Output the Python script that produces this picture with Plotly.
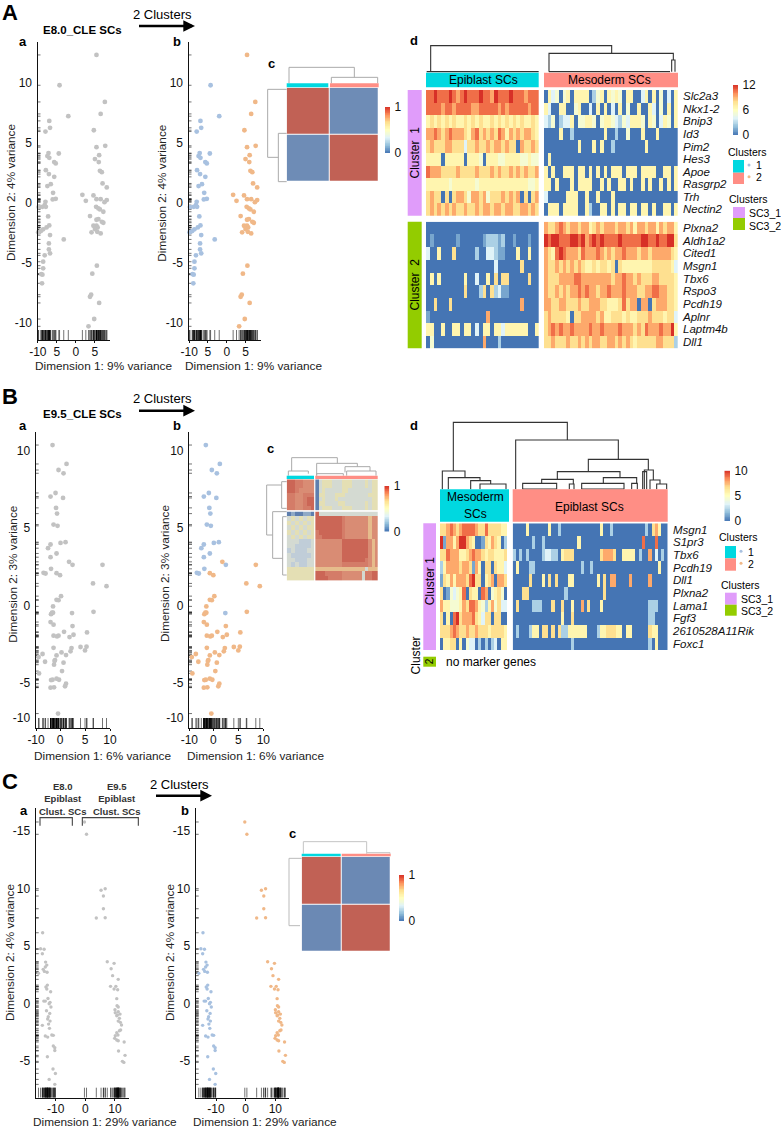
import numpy as np
import plotly.graph_objects as go

W, H = 781, 1128

# ---------- scatter data (Dimension 1, Dimension 2) ----------
A1x = [-4.3,-2.0,-7.0,-6.8,-8.0,-4.5,-7.2,-7.5,-7.0,-5.7,-5.3,-7.9,-7.1,-5.7,-6.6,-7.5,-6.0,-5.3,-6.1,-8.0,-8.2,-8.8,-9.8,-7.9,-7.3,-7.0,-7.7,-8.6,-9.2,-9.9,-6.8,-3.2,-7.1,-7.1,-6.8,-8.2,-8.6,-8.6,-9.1,-8.8,-8.9]
A1y = [9.83,7.25,6.86,6.28,5.97,4.14,4.17,3.92,3.78,3.42,3.31,2.75,2.42,2.19,1.58,1.42,0.86,0.36,0.31,0.11,-0.17,-0.31,-0.33,-0.31,-1.11,-1.86,-2.03,-2.19,-2.33,-2.44,-2.67,-3.03,-3.36,-3.86,-4.19,-4.36,-4.89,-5.44,-5.92,-5.97,-6.69]
A2x = [5.4,7.6,6.5,4.7,7.7,5.4,6.1,5.0,6.0,6.3,6.8,7.0,8.1,1.7,4.6,2.6,5.4,6.5,8.1,7.5,5.3,5.9,6.3,7.2,3.7,5.9,5.4,6.8,7.2,4.6,5.4,5.7,5.0,4.1,5.6,6.5,5.5,4.3,4.0,3.7,6.1,4.8,3.3]
A2y = [12.36,8.44,7.44,6.08,4.78,4.67,4.0,3.67,3.42,2.69,2.58,1.64,1.31,0.69,0.64,0.19,0.33,0.33,0.25,0.08,-0.31,-0.44,-0.53,-0.72,-1.08,-1.33,-1.39,-1.56,-1.64,-1.89,-1.89,-2.03,-2.17,-2.44,-2.39,-2.53,-5.22,-5.89,-7.64,-7.81,-8.33,-9.67,-10.28]

B1x = [-1.5,1.3,-0.3,0.7,-0.9,-1.9,0.6,-0.8,-0.6,-1.3,-0.5,0.1,1.1,-1.9,-2.4,-0.7,-1.9,2.5,-1.8,-3.3,-2.9,2.4]
B1y = [10.34,9.12,8.73,8.52,7.25,7.02,6.93,6.29,5.92,5.21,5.13,4.03,4.08,3.93,3.69,3.35,3.11,2.62,2.36,2.10,2.06,-0.49]
B2x = [1.8,-0.7,0.0,8.5,6.6,9.3,0.2,-0.7,-0.3,-1.4,-1.6,-1.8,-1.4,6.7,-1.9,-1.3,2.5,0.8,2.7,-1.3,-0.6,-0.3,1.9,5.4,-1.3,4.1,5.3,5.0,0.3,2.3,2.1,-0.7,1.2,-3.5,-4.3,-3.0,-1.1,-1.2,0.7,-1.0,0.4,-1.5,-1.8,-0.7,-0.2,1.2,1.0,-1.9,-1.2,-0.4,-4.2]
B2y = [2.81,2.08,1.95,2.62,1.42,1.24,0.60,0.36,0.34,-0.06,-0.47,-0.56,-0.47,-0.41,-1.07,-1.24,-1.33,-1.70,-1.89,-1.95,-2.00,-1.95,-2.04,-1.74,-2.73,-2.68,-2.66,-2.90,-3.03,-2.75,-2.96,-3.22,-3.20,-3.13,-3.33,-3.63,-3.58,-3.82,-3.69,-3.52,-4.23,-4.79,-4.81,-4.72,-4.79,-5.04,-5.21,-5.30,-5.28,-6.97,-4.38]

C1x = [-14.4,-15.1,-13.9,-14.5,-13.4,-13.0,-13.5,-14.2,-12.9,-13.8,-15.8,-12.8,-13.3,-13.0,-11.7,-12.6,-13.5,-14.0,-11.9,-12.2,-11.6,-13.1,-12.0,-12.5,-12.7,-11.9,-14.5,-12.4,-12.1,-13.5,-12.7,-11.3,-10.8,-10.8,-10.3,-10.3,-12.8,-10.9,-10.1,-12.2,-10.3]
C1y = [6.14,4.75,4.70,4.32,3.59,3.33,3.16,2.96,2.70,2.78,2.61,1.59,1.42,1.25,1.01,0.43,0.20,0.20,0.09,-0.03,-0.32,-0.64,-0.87,-1.16,-1.36,-1.54,-1.91,-1.80,-2.17,-2.84,-2.93,-2.75,-2.78,-3.71,-3.86,-4.09,-4.64,-5.71,-6.09,-6.61,-7.04]
C2x = [-0.3,0.4,6.7,5.3,6.1,6.1,3.7,6.7,7.4,9.7,8.7,9.2,11.1,8.5,9.7,10.3,10.9,10.6,10.7,11.1,10.0,11.1,10.1,10.8,11.7,10.6,11.5,11.1,11.8,12.2,11.9,11.5,10.6,11.0,10.1,9.9,10.6,11.1,13.1,11.2,13.4,12.5,13.0]
C2y = [15.77,14.70,9.97,9.83,9.33,8.23,7.42,7.45,3.62,3.48,3.01,2.41,2.09,1.48,1.25,1.48,1.19,0.41,-0.20,-0.32,-0.55,-0.72,-0.81,-1.01,-0.93,-1.07,-1.30,-1.54,-1.65,-1.88,-2.32,-2.38,-2.55,-2.75,-2.81,-3.04,-3.19,-3.25,-3.36,-4.14,-4.52,-5.04,-5.13]

# ---------- expression heatmaps: one digit per cell, 0-9 of the colour scale ----------
A_GENES = ["Slc2a3","Nkx1-2","Bnip3","Id3","Pim2","Hes3","Apoe","Rasgrp2","Trh","Nectin2",
           "Plxna2","Aldh1a2","Cited1","Msgn1","Tbx6","Rspo3","Pcdh19","Aplnr","Laptm4b","Dll1"]
A_EPI = ["889888987898889887988898887888","888878878888778888878788888788","565656565565656556565656565565",
         "778767877765786767687576767765","676667766636676676776766076676","555505555505554055544555544544",
         "877766667666676667676676767667","555555455555545555555555555445","676606067764776746667676706067",
         "676767676676676776776776677676",
         "000000000000000000000000000000","010000001000000122212001000100","300500060000020033211000500500",
         "000000000000000000300000060000","050500000050030050606600000600","000000000060002606231100000000",
         "006000600000000000000000070000","100000000000000070000000000000","550050055055030550553555555005",
         "040000000000000700020000000000"]
A_MES = ["053404505555024505454055003505040305","530055004500305050305040050053040505","324023350445540455432435554054035405",
         "000050020000000050020040005000500000","000000000500050500200000000500000000","050000000000000000000000000000000000",
         "505005550550505050555055505555005505","550500050555500505005505005050050505","300000555005005000500000000000000000",
         "055505555005200550505505505505005505",
         "766787677677567677767767577677576775","989988899897898988889888889988988996","765898777687778767677877767767777765",
         "766767676765565665606555555556666653","766677778877777777677877676667766665","766767677878776778777877766778877665",
         "776677666766777665556867707706777665","676666506677776755666565566676665663","678787787777877877778777676877787795",
         "667666766767677667767676566666776662"]
B_GENES = ["Msgn1","S1pr3","Tbx6","Pcdh19","Dll1","Plxna2","Lama1","Fgf3","2610528A11Rik","Foxc1"]
B_MES = ["667876788887668666655","917757997650016576502","668777556787765665556","257777677617506606553","165757776896605670776",
         "601434580655087045640","755444576887542574633","605089677786536606600","666787667667666566665","055660504330202023055"]
B_EPI = ["000050000005002000000000000500200000000002067500","000000200200000000005000000000000000000080008000",
         "202020000233220566600000000677760055550200703020","050002200000000000000200200000000000000000000500",
         "000006000506060005500000005060770000700000700000","000660000000000020000000000060000000000000000000",
         "060000222000600600500706000500000000000000222000","000000000000000500600000000000000000000000220000",
         "020002550660606225555550002556665505500000655000","000000000000000000200000000000000000000000205000"]

# ---------- consensus heatmaps ----------
A_CONS = [[0.96, 0.04], [0.04, 0.96]]
C_CONS = [[0.96, 0.03], [0.03, 0.96]]
B_CONS = ["9988777"+"0344433344433334344","9988777"+"0344433344433334344","9987777"+"0343333344333333344","8877888"+"0443334443333333444",
          "8877899"+"0343334333333333344","8877899"+"0443333443333334344","8877889"+"0344433344433334344",
          "0100110"+"9333333333333333333","3434344"+"9999999987777777677","4343434"+"9999999987777777677","3434344"+"9999999987777777677",
          "4343434"+"8999999987777777677","3434344"+"8899999987777777677","3332223"+"7777777799999999767","3322223"+"7777777799999999767",
          "2322233"+"7777777799999999767","3222223"+"7777777799999999767","3322233"+"7777777799999998767","3232233"+"7777777788888888767",
          "4444444"+"6666666666666663666","4444444"+"9998888877777738899","4444444"+"9999888877777738899"]

SCALE = ["#4575B4", "#91BFDB", "#E0F3F8", "#FFFFBF", "#FEE090", "#FC8D59", "#D73027"]
MUTED = ["#5F7FAE", "#9FB7CF", "#CDD9D9", "#E6E6B8", "#E8D392", "#D07F63", "#BC5850"]
B_MUTED = ["#5F7FAE", "#8FA9C6", "#C0CDD8", "#D4DAD2", "#E4DFB4", "#E6D8A0", "#E6BC8C", "#D98C74", "#D47C68", "#CB6656"]
GREY, BLUE, ORANGE = "#C2C2C2", "#A8C1E0", "#F0B888"
CYAN, SALMON, PURPLE, GREEN = "#00D8E0", "#FF8E85", "#E09CFA", "#93CC00"
FONT = "Liberation Sans"

fig = go.Figure()
ax_n = [1]
layout = {}
shapes, annos = [], []


def new_axes(x0, x1, y0, y1):
    n = ax_n[0]
    ax_n[0] += 1
    xn, yn = ("xaxis", "yaxis") if n == 1 else (f"xaxis{n}", f"yaxis{n}")
    xr, yr = ("x", "y") if n == 1 else (f"x{n}", f"y{n}")
    layout[xn] = dict(domain=[x0 / W, x1 / W], anchor=yr, visible=False, fixedrange=True, automargin=False)
    layout[yn] = dict(domain=[1 - y1 / H, 1 - y0 / H], anchor=xr, visible=False, fixedrange=True, automargin=False)
    return xn, yn, xr, yr


def txt(x, y, s, size=12, bold=False, angle=0, anchor="center", color="#000"):
    annos.append(dict(x=x / W, y=1 - y / H, xref="paper", yref="paper", text=f"<b>{s}</b>" if bold else s,
                      showarrow=False, textangle=angle, xanchor=anchor, yanchor="middle",
                      font=dict(family=FONT, size=size, color=color)))


def rect(x0, y0, x1, y1, color, kind="rect"):
    shapes.append(dict(type=kind, xref="paper", yref="paper", x0=x0 / W, x1=x1 / W, y0=1 - y0 / H, y1=1 - y1 / H,
                       fillcolor=color, line=dict(width=0)))


def scatter_panel(box, xr_, yr_, xt, xl, yt, yl, xtitle, ytitle, sets, size, tx, ty, rugh=10):
    x0, x1, y0, y1 = box
    xn, yn, xr, yr = new_axes(x0, x1, y0, y1)
    base = dict(visible=True, showgrid=False, zeroline=False, showline=True, linecolor="#111", linewidth=1.2,
                ticks="outside", tickfont=dict(family=FONT, size=12, color="#111"))
    layout[xn].update(base, range=xr_, tickvals=xt, ticktext=xl, ticklen=2, tickcolor="#111", tickwidth=0.8,
                      ticklabelstandoff=-2)
    layout[yn].update(base, range=yr_, tickvals=yt, ticktext=yl, ticklen=2, tickcolor="rgba(0,0,0,0)")
    # the reference sets its axis titles off-centre from the axes
    txt(tx[0], tx[1], xtitle, 11.8, color="#222")
    txt(ty[0], ty[1], ytitle, 11.8, angle=-90, color="#222")
    sy = (yr_[1] - yr_[0]) / (y1 - y0)
    sx = (xr_[1] - xr_[0]) / (x1 - x0)
    allx = [v for s in sets for v in s[0]]
    ally = [v for s in sets for v in s[1]]
    rx, ry = [], []
    for v in allx:
        rx += [v, v, None]
        ry += [yr_[0], yr_[0] + rugh * sy, None]
    for v in ally:
        rx += [xr_[0], xr_[0] + 3 * sx, None]
        ry += [v, v, None]
    fig.add_trace(go.Scatter(x=rx, y=ry, mode="lines", line=dict(color="rgba(0,0,0,0.55)", width=1),
                             xaxis=xr, yaxis=yr, hoverinfo="skip", showlegend=False))
    for sx_, sy_, col in sets:
        fig.add_trace(go.Scatter(x=sx_, y=sy_, mode="markers", marker=dict(color=col, size=size, line=dict(width=0)),
                                 xaxis=xr, yaxis=yr, showlegend=False, cliponaxis=False))


def grid(rows, n, top):
    out = []
    for r in rows:
        r = r.ljust(n, r[-1])[:n]
        out.append([int(c) * top / 9 for c in r])
    return out


def heat(box, z, zmax=1, scale=SCALE, labels=None, xbins=None, gap=0):
    xn, yn, xr, yr = new_axes(*box)
    n = len(z)
    fig.add_trace(go.Heatmap(z=z, x=xbins, y=list(range(n)), zmin=0, zmax=zmax, showscale=False,
                             colorscale=[[i / (len(scale) - 1), c] for i, c in enumerate(scale)],
                             xaxis=xr, yaxis=yr, xgap=gap, ygap=gap, hoverinfo="skip"))
    layout[yn]["range"] = [n - 0.5, -0.5]
    if labels:
        layout[yn].update(visible=True, side="right", showgrid=False, zeroline=False, showline=False, ticks="outside",
                          ticklen=2, tickcolor="rgba(0,0,0,0)", tickvals=list(range(n)),
                          ticktext=[f"<i>{g}</i>" for g in labels], tickfont=dict(family=FONT, size=11.5, color="#111"))


def colorbar(x0, x1, y0, y1, top, ticks):
    xn, yn, xr, yr = new_axes(x0, x1, y0, y1)
    lv = np.linspace(0, top, 64)
    fig.add_trace(go.Heatmap(z=[[v] for v in lv], x=[0], y=lv, zmin=0, zmax=top, showscale=False,
                             colorscale=[[i / 6, c] for i, c in enumerate(SCALE)], xaxis=xr, yaxis=yr, hoverinfo="skip"))
    layout[yn].update(visible=True, side="right", range=[0, top], showgrid=False, zeroline=False, showline=False,
                      ticks="outside", ticklen=1, tickcolor="rgba(0,0,0,0)", tickvals=ticks,
                      tickfont=dict(family=FONT, size=12, color="#111"))


# full-page canvas for dendrograms and brackets
cxn, cyn, cxr, cyr = new_axes(0, W, 0, H)
layout[cxn]["range"] = [0, W]
layout[cyn]["range"] = [H, 0]


def dendro(ox, oy, merges, color, width=1):
    """merges: (height, left x, right x, left foot, right foot) read at 3x the figure scale."""
    xs, ys = [], []
    for y, a, b, fa, fb in merges:
        xs += [ox + a / 3, ox + a / 3, ox + b / 3, ox + b / 3, None]
        ys += [oy + fa / 3, oy + y / 3, oy + y / 3, oy + fb / 3, None]
    fig.add_trace(go.Scatter(x=xs, y=ys, mode="lines", line=dict(color=color, width=width), xaxis=cxr, yaxis=cyr,
                             hoverinfo="skip", showlegend=False))


def dendro_h(ox, oy, merges, color, width=1):
    xs, ys = [], []
    for x, a, b, fa, fb in merges:
        ys += [oy + a / 3, oy + a / 3, oy + b / 3, oy + b / 3, None]
        xs += [ox + fa / 3, ox + x / 3, ox + x / 3, ox + fb / 3, None]
    fig.add_trace(go.Scatter(x=xs, y=ys, mode="lines", line=dict(color=color, width=width), xaxis=cxr, yaxis=cyr,
                             hoverinfo="skip", showlegend=False))


XA, YA = ["-10", "5", "0", "5"], ["10", "5", "0", "-5", "-10"]
TY = 365.5
# ---- Panel A
scatter_panel((37.5, 110, 42, 340), [-10.09, 8.95], [-11.42, 13.44], [-10, -5, 0, 5], XA, [10, 5, 0, -5, -10], YA,
              "Dimension 1: 9% variance", "Dimension 2: 4% variance", [(A1x + A2x, A1y + A2y, GREY)], 4.8, (103.7, TY), (11, 193))
scatter_panel((188.5, 261, 42, 340), [-10.18, 9.12], [-11.42, 13.44], [-10, -5, 0, 5], XA, [10, 5, 0, -5, -10], YA,
              "Dimension 1: 9% variance", "Dimension 2: 4% variance", [(A1x, A1y, BLUE), (A2x, A2y, ORANGE)], 4.8, (253.8, TY), (161.7, 193))
heat((286.7, 378.7, 87.7, 182), A_CONS, scale=MUTED, xbins=[0, 43, 92], gap=1)
colorbar(385, 390, 107, 153, 1, [0, 1])
heat((426, 538.7, 90, 215.7), grid(A_EPI[:10], 30, 12), 12)
heat((544, 677.7, 90, 215.7), grid(A_MES[:10], 36, 12), 12, labels=A_GENES[:10])
heat((426, 538.7, 221.7, 348.3), grid(A_EPI[10:], 30, 12), 12)
heat((544, 677.7, 221.7, 348.3), grid(A_MES[10:], 36, 12), 12, labels=A_GENES[10:])
colorbar(733, 738, 85, 135, 12, [0, 6, 12])
rect(286.7, 83.3, 328.3, 87.3, CYAN)
rect(330, 83.3, 378.7, 87.3, SALMON)
dendro(0, 0, [(202, 867, 1063, 250, 232), (232, 994, 1133, 250, 250)], "#AAAAAA")
dendro_h(0, 0, [(803, 268, 472, 860, 835), (835, 400, 545, 860, 860)], "#AAAAAA")
dendro(400, 30, [(47, 92, 635, 125, 70), (70, 447, 820, 125, 90), (90, 815, 825, 125, 125),
                 (125, 80, 416, 125, 125), (125, 447, 810, 125, 125)], "#333333", 1.1)
rect(426, 72.7, 538.7, 87.3, CYAN)
rect(544, 72.7, 678, 87.3, SALMON)
txt(483, 79.8, "Epiblast SCs", 12)
txt(609, 79.8, "Mesoderm SCs", 12)
rect(407.7, 90, 421.7, 215.7, PURPLE)
rect(407.7, 221.7, 421.7, 348.3, GREEN)
txt(414.5, 153, "Cluster  1", 12, angle=-90)
txt(414.5, 285, "Cluster  2", 12, angle=-90)
txt(747, 151.7, "Clusters", 10.5)
rect(733, 160, 744, 172.7, CYAN)
rect(733, 172.7, 744, 184, SALMON)
rect(747.5, 163.5, 750.5, 166.5, BLUE, "circle")
rect(747.5, 175.2, 750.5, 178.2, ORANGE, "circle")
txt(754, 165, "1", 10.5, anchor="left")
txt(754, 177, "2", 10.5, anchor="left")
txt(748, 199, "Clusters", 10.5)
rect(733, 207, 745, 218, PURPLE)
rect(733, 218, 745, 230, GREEN)
txt(747, 213, "SC3_1", 10.5, anchor="left")
txt(747, 226, "SC3_2", 10.5, anchor="left")
txt(10, 13, "A", 22, True)
txt(23, 41, "a", 13, True)
txt(176.5, 41, "b", 13, True)
txt(271, 64, "c", 13, True)
txt(414.3, 40.7, "d", 13, True)
txt(82.7, 30, "E8.0_CLE SCs", 11.5, True)
txt(162.7, 14.3, "2 Clusters", 13)

# ---- Panel B
XB, YB = ["-10", "0", "5", "10"], ["10", "5", "0", "-5", "-10"]
XBV, YBV = [-4.8, 0, 5, 10], [10, 5, 0, -5, -7.25]
scatter_panel((35.7, 110, 431.7, 728), [-4.87, 10], [-7.9, 11.2], XBV, XB, YBV, YB,
              "Dimension 1: 6% variance", "Dimension 2: 3% variance", [(B1x + B2x, B1y + B2y, GREY)], 4.8, (102.3, 755.5), (12.7, 574))
scatter_panel((189, 263.3, 431.7, 728), [-4.87, 10], [-7.9, 11.2], XBV, XB, YBV, YB,
              "Dimension 1: 6% variance", "Dimension 2: 3% variance", [(B1x, B1y, BLUE), (B2x, B2y, ORANGE)], 4.8, (255, 755.5), (165, 574))
bc = grid(B_CONS, 26, 1)
heat((286.7, 314.2, 479.3, 510.5), [r[:7] for r in bc[:7]], scale=B_MUTED)
heat((315.2, 377.7, 479.3, 510.5), [r[7:] for r in bc[:7]], scale=B_MUTED)
heat((286.7, 314.2, 511.5, 580.7), [r[:7] for r in bc[7:]], scale=B_MUTED)
heat((315.2, 377.7, 511.5, 580.7), [r[7:] for r in bc[7:]], scale=B_MUTED)
colorbar(384.3, 389.3, 486, 531.7, 1, [0, 1])
rect(286.7, 475.7, 314, 479, CYAN)
rect(315.3, 475.7, 377.7, 479, SALMON)
dendro(0, 385, [(218, 875, 1012, 258, 235), (235, 950, 1072, 272, 245), (258, 865, 925, 272, 266),
                (245, 1035, 1110, 262, 258), (266, 950, 1030, 272, 272), (258, 1040, 1128, 272, 272)], "#AAAAAA")
dendro_h(0, 385, [(800, 300, 450, 845, 818), (818, 380, 520, 860, 848), (845, 290, 370, 860, 860),
                  (848, 395, 570, 860, 860)], "#AAAAAA")
dendro(400, 410, [(37, 160, 502, 183, 90), (183, 127, 195, 238, 203), (203, 145, 240, 238, 212), (212, 212, 272, 238, 222),
                  (222, 240, 318, 238, 238), (90, 347, 655, 238, 148), (148, 565, 745, 185, 180), (185, 472, 660, 208, 203),
                  (208, 425, 520, 220, 222), (220, 368, 470, 238, 238), (222, 508, 522, 238, 238), (203, 610, 710, 220, 220),
                  (220, 545, 672, 238, 238), (220, 695, 712, 238, 238), (180, 733, 760, 238, 210), (185, 728, 740, 238, 238),
                  (210, 750, 780, 238, 222), (222, 770, 800, 238, 238),
                  (237, 368, 470, 237, 237), (237, 545, 672, 237, 237)], "#333333", 1.1)
rect(440, 489.3, 509, 521.7, CYAN)
rect(512.7, 489.3, 667.7, 521.7, SALMON)
txt(475, 497.5, "Mesoderm", 12)
txt(475, 513.5, "SCs", 12)
txt(589.5, 506.5, "Epiblast SCs", 12)
heat((440, 507.3, 523.3, 650), grid(B_MES, 21, 10), 10)
heat((512.7, 667.7, 523.3, 650), grid(B_EPI, 48, 10), 10, labels=B_GENES)
colorbar(724.3, 730, 470.7, 521, 10, [0, 5, 10])
rect(423.3, 523.3, 436, 650, PURPLE)
txt(429.5, 581.7, "Cluster 1", 12, angle=-90)
rect(423.3, 656.7, 436, 666.7, GREEN)
txt(429.5, 661.7, "2", 10, angle=-90)
txt(415.7, 655.7, "Cluster", 12, angle=-90)
txt(444.3, 661.7, "no marker genes", 12, anchor="left")
txt(738, 537.3, "Clusters", 10.5)
rect(725, 546, 736, 558.3, CYAN)
rect(725, 558.3, 736, 570.7, SALMON)
rect(739.5, 549.8, 742.5, 552.8, BLUE, "circle")
rect(739.5, 561.8, 742.5, 564.8, ORANGE, "circle")
txt(746, 551.7, "1", 10.5, anchor="left")
txt(746, 563.7, "2", 10.5, anchor="left")
txt(740, 585, "Clusters", 10.5)
rect(725, 592.7, 736.7, 604.7, PURPLE)
rect(725, 604.7, 736.7, 615.7, GREEN)
txt(739, 598.7, "SC3_1", 10.5, anchor="left")
txt(739, 611, "SC3_2", 10.5, anchor="left")
txt(9.5, 396, "B", 22, True)
txt(23, 425.7, "a", 13, True)
txt(177, 425.7, "b", 13, True)
txt(270.3, 448.3, "c", 13, True)
txt(414.3, 425.7, "d", 13, True)
txt(82.7, 414.3, "E9.5_CLE SCs", 11.5, True)
txt(162.3, 398.7, "2 Clusters", 13)

# ---- Panel C
XC, YC = ["-10", "0", "10"], ["-15", "10", "5", "0", "-5"]
YCV = [15, 10, 5, 0, -5]
scatter_panel((35.7, 129.3, 808.3, 1097.7), [-16.74, 14.83], [-8.2, 16.96], [-10, 0, 10], XC, YCV, YC,
              "Dimension 1: 29% variance", "Dimension 2: 4% variance", [(C1x + C2x, C1y + C2y, GREY)], 3.4, (104.7, 1122), (10, 953))
scatter_panel((195.7, 289.3, 808.3, 1097.7), [-16.85, 14.7], [-8.2, 16.96], [-10, 0, 10], XC, YCV, YC,
              "Dimension 1: 29% variance", "Dimension 2: 4% variance", [(C1x, C1y, BLUE), (C2x, C2y, ORANGE)], 3.4, (264.7, 1122), (170, 953))
heat((301.7, 390.7, 856.7, 951.7), C_CONS, scale=MUTED, xbins=[0, 40, 89], gap=1)
colorbar(399, 404, 875, 921, 1, [0, 1])
rect(301.7, 853.7, 340.7, 856.3, CYAN)
rect(341.7, 853.7, 390.7, 856.3, SALMON)
dendro(0, 765, [(230, 910, 1100, 266, 263), (263, 1100, 1170, 266, 266)], "#C4C4C4")
dendro_h(0, 765, [(867, 280, 482, 905, 900)], "#BBBBBB")
txt(63, 798.7, "E8.0<br>Epiblast<br>Clust. SCs", 9.5, True, color="#333")
txt(117.3, 798.7, "E9.5<br>Epiblast<br>Clust. SCs", 9.5, True, color="#333")
dendro(0, 765, [(158, 120, 217, 182, 182), (158, 247, 415, 182, 182)], "#444444", 1.1)
txt(10, 781, "C", 22, True)
txt(24, 810, "a", 13, True)
txt(184.7, 810, "b", 13, True)
txt(292.7, 833, "c", 13, True)
txt(179.3, 784, "2 Clusters", 13)

# arrows
for x0, x1, y in [(136, 195, 26), (136, 195, 410.7), (153, 212, 795.7)]:
    annos.append(dict(x=x1 / W, y=1 - y / H, xref="paper", yref="paper", text=" ", showarrow=True, ax=x0 - x1, ay=0,
                      arrowhead=2, arrowsize=0.9, arrowwidth=2.6, arrowcolor="#000"))

fig.update_layout(width=W, height=H, margin=dict(l=0, r=0, t=0, b=0, autoexpand=False), paper_bgcolor="white",
                  plot_bgcolor="rgba(0,0,0,0)", showlegend=False, shapes=shapes, annotations=annos, **layout)
fig.write_html("out.html", post_script="document.body.style.margin='0';", config=dict(displayModeBar=False))
